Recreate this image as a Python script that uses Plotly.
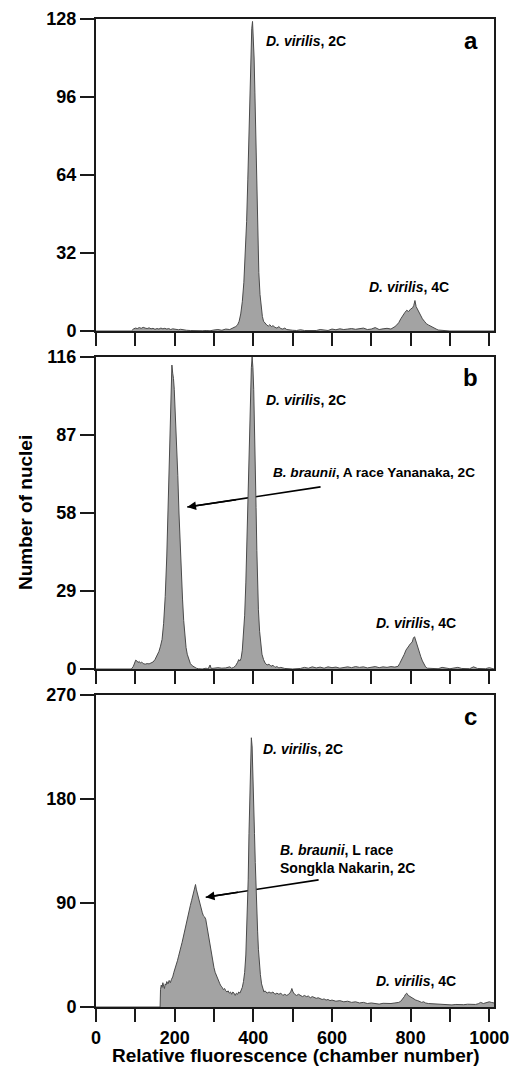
import plotly.graph_objects as go

W, H = 514, 1066

# ---------------- data (channel, count) ----------------
a_ch = [0, 90, 95, 100, 105, 110, 115, 120, 125, 130, 135, 140, 145, 150, 155, 160, 165, 170, 175, 180, 185, 190, 195, 200,
        205, 210, 215, 220, 225, 230, 240, 250, 260, 270, 280, 290, 300, 310, 320, 330, 340, 345, 350, 355, 360, 364, 368,
        372, 376, 380, 383, 386, 389, 392, 394, 396, 398, 400, 402, 404, 406, 408, 410, 412, 414, 417, 420, 423, 426, 430,
        434, 438, 442, 446, 450, 455, 460, 465, 470, 475, 480, 485, 490, 500, 510, 520, 530, 540, 550, 560, 570, 580, 590,
        600, 610, 620, 630, 640, 650, 660, 670, 680, 690, 700, 710, 720, 730, 740, 750, 755, 760, 765, 770, 775, 780, 785,
        790, 795, 800, 805, 808, 811, 814, 817, 820, 825, 830, 835, 840, 845, 850, 855, 860, 865, 870, 880, 890, 900, 1012]
a_val = [0, 0, 0.8, 1.2, 1.0, 1.4, 1.1, 1.5, 1.2, 1.0, 1.3, 0.9, 1.1, 0.7, 1.0, 0.8, 1.2, 0.9, 1.1, 0.8, 1.0, 0.6, 0.9, 0.7,
         0.8, 0.5, 0.7, 0.5, 0.6, 0.3, 0.2, 0.1, 0.3, 0.1, 0.2, 0.1, 0.4, 0.6, 0.3, 0.8, 0.6, 0.9, 1.2, 1.8, 2.5, 4, 7,
         12, 20, 32, 45, 62, 82, 102, 115, 124, 127, 121, 112, 98, 80, 62, 46, 34, 24, 15, 9, 6, 4, 3,
         2.5, 2, 2.6, 1.8, 2.2, 1.5, 1.2, 1.8, 1.0, 0.8, 1.2, 0.6, 0.4, 0.3, 0.2, 0.5, 0.2, 0.1, 0.3, 0.2, 0.6, 0.4, 0.2,
         0.8, 0.5, 0.9, 0.6, 0.8, 1.0, 0.7, 0.9, 1.2, 0.6, 0.8, 1.4, 0.6, 0.9, 1.1, 0.8, 1.2, 1.8, 2.5, 3.5, 5, 6.5, 7.5,
         8.5, 8, 9, 9.5, 10.5, 12.5, 10, 9, 8, 6.5, 5, 4, 3, 2.5, 2, 1.8, 1.2, 0.8, 0.4, 0.2, 0.1, 0, 0]

b_ch = [0, 90, 95, 98, 101, 104, 107, 110, 113, 116, 120, 125, 130, 135, 140, 145, 150, 155, 160, 164, 168, 172, 176, 180,
        183, 186, 189, 191, 193, 195, 197, 199, 201, 203, 205, 208, 211, 214, 217, 220, 223, 226, 229, 232, 236, 240, 245,
        250, 255, 260, 270, 280, 285, 290, 293, 300, 310, 320, 330, 340, 345, 350, 355, 360, 363, 366, 369, 372, 375, 378,
        381, 384, 387, 390, 393, 395, 397, 399, 401, 403, 405, 407, 409, 411, 413, 416, 419, 422, 426, 430, 435, 440, 445,
        450, 455, 460, 465, 470, 480, 490, 500, 520, 530, 540, 550, 560, 570, 580, 590, 600, 610, 620, 630, 640, 650, 660,
        670, 680, 690, 700, 710, 720, 730, 740, 750, 760, 768, 772, 776, 780, 784, 788, 792, 796, 800, 804, 807, 810, 813,
        816, 819, 822, 826, 830, 834, 838, 842, 850, 860, 870, 880, 890, 900, 920, 930, 950, 960, 970, 990, 1000, 1012]
b_val = [0, 0, 1, 2.5, 3.3, 3.0, 2.4, 2.8, 2.2, 2.6, 2.0, 1.8, 2.0, 1.9, 2.2, 2.6, 3.5, 5, 6.5, 8.5, 11, 17, 27, 42,
         58, 76, 95, 106, 113, 110, 108, 104, 98, 92, 84, 72, 58, 46, 36, 26, 18, 12, 8, 5.5, 3.5, 2.0, 1.2,
         0.6, 0.3, 0.1, 0, 0.3, 0, 1.5, 0.2, 0.3, 0.5, 0.3, 0.4, 0.8, 0.3, 0.6, 1.2, 2.5, 3.5, 3.0, 4, 7, 12, 20,
         32, 48, 68, 90, 104, 112, 116, 112, 104, 92, 76, 60, 44, 32, 22, 14, 8, 5.5, 3.5, 2.2, 1.5, 1.8, 1.0,
         1.4, 0.6, 0.9, 0.4, 0.6, 0.2, 0.1, 0, 0.2, 0.6, 0.3, 0.8, 0.4, 0.7, 0.3, 0.8, 0.5, 0.7, 0.3, 0.6, 0.8, 0.5, 0.9,
         0.6, 0.8, 0.4, 0.7, 0.9, 0.5, 0.8, 0.6, 0.9, 0.7, 1.0, 2.0, 3.0, 4.0, 5.5, 7, 8, 9, 9.5, 10, 11.5, 12, 10.5,
         9, 7.5, 6, 4.5, 3, 1.8, 0.8, 0.3, 0.2, 0.2, 0.1, 0.6, 0.3, 0.1, 0.6, 0.2, 0.1, 0.8, 0.2, 0.1, 0.5, 0]

c_ch = [0, 160, 163, 164, 166, 168, 170, 172, 174, 176, 178, 180, 183, 186, 189, 192, 195, 198, 201, 204, 207, 210, 213,
        216, 219, 222, 225, 228, 231, 234, 237, 240, 243, 246, 249, 251, 253, 255, 257, 259, 261, 263, 265, 267, 270, 273,
        276, 279, 282, 285, 288, 291, 294, 297, 300, 303, 306, 309, 312, 315, 318, 321, 324, 327, 330, 333, 336, 339, 342,
        345, 348, 351, 354, 357, 360, 363, 366, 369, 372, 375, 378, 381, 384, 387, 389, 391, 393, 395, 397, 399, 401, 403,
        405, 407, 409, 411, 413, 415, 418, 421, 424, 427, 430, 435, 440, 445, 450, 455, 460, 465, 470, 475, 480, 485, 490,
        495, 498, 501, 505, 510, 515, 520, 525, 530, 535, 540, 545, 550, 555, 560, 565, 570, 575, 580, 585, 590, 595, 600,
        610, 620, 630, 640, 650, 660, 670, 680, 690, 700, 710, 720, 730, 740, 750, 760, 770, 775, 780, 784, 787, 790, 794,
        798, 803, 808, 813, 818, 823, 828, 833, 838, 845, 855, 865, 875, 885, 895, 905, 915, 925, 935, 945, 955, 965, 972,
        978, 985, 992, 1000, 1005, 1012]
c_val = [0, 0, 0, 15, 19, 17, 21, 18, 16, 20, 19, 22, 20, 23, 21, 24, 26, 30, 33, 37, 40, 44, 47,
         52, 56, 61, 65, 70, 74, 79, 84, 88, 92, 96, 100, 104, 106, 102, 99, 96, 94, 90, 88, 85, 82, 79,
         78, 76, 70, 63, 57, 50, 44, 39, 34, 30, 27, 24, 21, 20, 18, 17, 15, 16, 14, 13, 14, 12, 13,
         11, 13, 12, 10, 12, 11, 13, 12, 14, 17, 22, 30, 45, 70, 110, 150, 190, 220, 233, 225, 205, 180, 150,
         125, 100, 82, 65, 50, 38, 28, 20, 16, 13, 14, 12, 13, 12, 13, 11, 12, 11, 12, 10, 11, 10, 11,
         13, 16, 13, 11, 10, 11, 10, 9, 10, 9, 9.5, 8, 9, 8, 7.5, 8, 7, 6.5, 7, 6, 6.5, 5.5, 6,
         5, 5.5, 4.5, 5, 4, 4.5, 3.5, 4, 3, 3.5, 3, 2.5, 3.2, 2.8, 3, 3.5, 4, 5, 7, 9, 11, 12, 10,
         9, 8, 7, 6, 5.5, 5, 4, 4.5, 3.5, 3, 2.8, 2.5, 2.2, 2, 2.4, 1.8, 2.2, 1.8, 2, 2.4, 2, 2.2, 2.8,
         4, 3, 3.5, 4.5, 4, 3.5]

x_ticks = [0, 100, 200, 300, 400, 500, 600, 700, 800, 900, 1000]
x_labels = ["0", "", "200", "", "400", "", "600", "", "800", "", "1000"]
a_yticks = [0, 32, 64, 96, 128]
b_yticks = [0, 29, 58, 87, 116]
c_yticks = [0, 90, 180, 270]

# ---------------- figure ----------------
FONT = "Liberation Sans, Arial, sans-serif"
FILL = "#a3a3a3"
EDGE = "#4a4a4a"
AX = "#1a1a1a"

fig = go.Figure()

panels = [
    (a_ch, a_val, "x", "y"),
    (b_ch, b_val, "x2", "y2"),
    (c_ch, c_val, "x3", "y3"),
]
for ch, val, xa, ya in panels:
    fig.add_trace(go.Scatter(x=ch, y=val, xaxis=xa, yaxis=ya, mode="lines",
                             fill="tozeroy", fillcolor=FILL,
                             line=dict(color=EDGE, width=1), showlegend=False,
                             hoverinfo="skip"))

def px_y(top, bottom):
    return [1 - bottom / H, 1 - top / H]

xdom = [96 / W, 494 / W]
ydoms = [px_y(19, 331), px_y(357, 669), px_y(695, 1007)]
yranges = [[0, 128], [0, 116], [0, 270]]
yticks = [a_yticks, b_yticks, c_yticks]

common_x = dict(range=[0, 1012], tickvals=x_ticks, ticks="outside", ticklen=13, tickwidth=2,
                tickcolor=AX, showline=True, linewidth=2, linecolor=AX, mirror=True,
                showgrid=False, zeroline=False, automargin=False,
                tickfont=dict(family=FONT, size=18, color="black", weight="bold"))
common_y = dict(ticks="outside", ticklen=14, tickwidth=2, tickcolor=AX, showline=True,
                linewidth=2, linecolor=AX, mirror=True, showgrid=False, zeroline=False,
                automargin=False,
                tickfont=dict(family=FONT, size=18, color="black", weight="bold"))

layout = dict(width=W, height=H, margin=dict(l=0, r=0, t=0, b=0),
              paper_bgcolor="white", plot_bgcolor="white", showlegend=False)
names = ["", "2", "3"]
for i, n in enumerate(names):
    xa = dict(common_x, domain=xdom, anchor="y" + n)
    if i < 2:
        xa["showticklabels"] = False
    else:
        xa["ticktext"] = x_labels
    layout["xaxis" + n] = xa
    layout["yaxis" + n] = dict(common_y, domain=ydoms[i], anchor="x" + n,
                               range=yranges[i], tickvals=yticks[i])
fig.update_layout(**layout)

def lab(text, x, y, xr, yr, size=14, xanchor="left"):
    fig.add_annotation(text=text, x=x, y=y, xref=xr, yref=yr, showarrow=False,
                       xanchor=xanchor, yanchor="middle", align="left",
                       font=dict(family=FONT, size=size, color="black"))

DV2 = "<b><i>D. virilis</i>, 2C</b>"
DV4 = "<b><i>D. virilis</i>, 4C</b>"

# panel a
lab(DV2, 426, 119, "x", "y")
lab(DV4, 690, 18, "x", "y")
lab("<b>a</b>", 953, 119, "x", "y", size=24, xanchor="center")
# panel b
lab("<b>b</b>", 953, 108.5, "x2", "y2", size=24, xanchor="center")
lab(DV2, 426, 100, "x2", "y2")
lab("<b><i>B. braunii</i>, A race Yananaka, 2C</b>", 444, 73, "x2", "y2", size=13.6)
lab(DV4, 706, 17, "x2", "y2")
# panel c
lab("<b>c</b>", 953, 251, "x3", "y3", size=24, xanchor="center")
lab(DV2, 420, 223, "x3", "y3")
lab("<b><i>B. braunii</i>, L race<br>Songkla Nakarin, 2C</b>", 462, 128, "x3", "y3")
lab(DV4, 706, 22.5, "x3", "y3")

# arrows (line behind the 2C peak, arrowhead in front)
def arrow(tail, head, xr, yr, cut):
    fig.add_shape(type="line", x0=tail[0], y0=tail[1], x1=head[0], y1=head[1],
                  xref=xr, yref=yr, layer="below", line=dict(color="black", width=1.6))
    t = (cut - head[0]) / (tail[0] - head[0])
    ay = head[1] + (tail[1] - head[1]) * t
    fig.add_annotation(x=head[0], y=head[1], ax=cut, ay=ay, xref=xr, yref=yr,
                       axref=xr, ayref=yr, showarrow=True, arrowhead=2, arrowsize=1.1,
                       arrowwidth=1.6, arrowcolor="black", text="")

arrow((571, 67.7), (232, 60.2), "x2", "y2", 360)
arrow((566, 110), (279, 95), "x3", "y3", 365)

# axis titles
fig.add_annotation(text="<b>Relative fluorescence (chamber number)</b>", xref="paper", yref="paper",
                   x=295 / W, y=1 - 1055 / H, showarrow=False, xanchor="center", yanchor="middle",
                   font=dict(family=FONT, size=19, color="black"))
fig.add_annotation(text="<b>Number of nuclei</b>", xref="paper", yref="paper",
                   x=25 / W, y=1 - 513 / H, showarrow=False, xanchor="center", yanchor="middle",
                   textangle=-90, font=dict(family=FONT, size=19, color="black"))

fig.write_html("out.html", config={"displayModeBar": False},
               post_script="document.body.style.margin='0';document.body.style.overflow='hidden';")
